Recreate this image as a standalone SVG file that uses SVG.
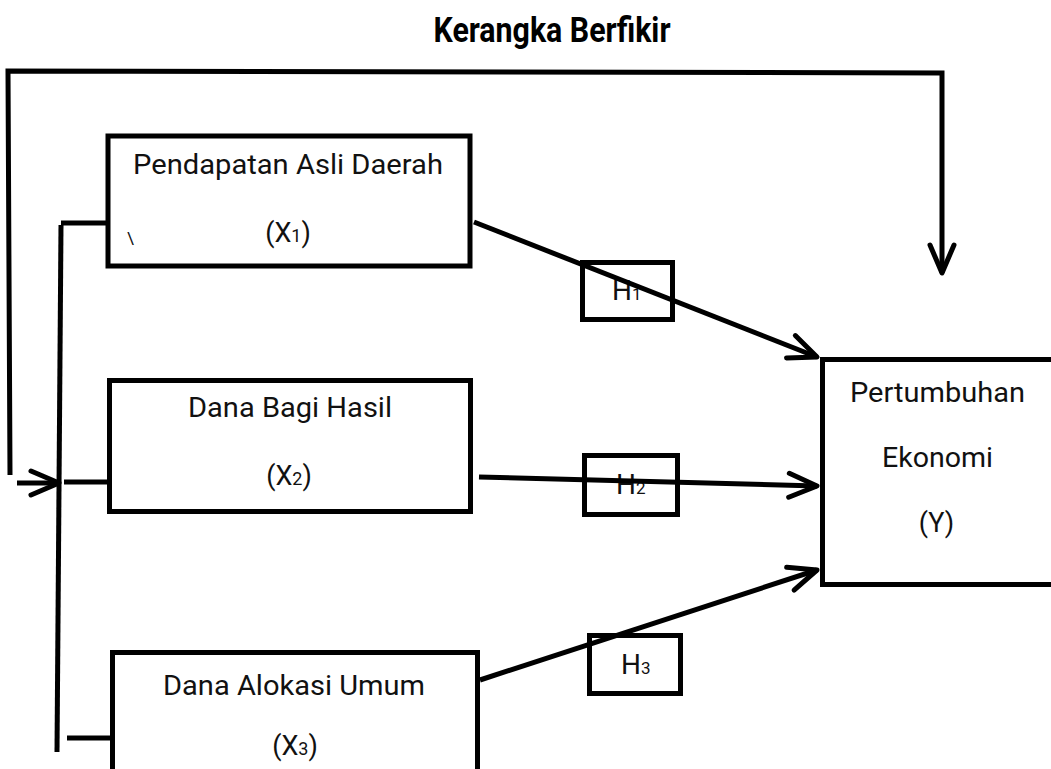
<svg xmlns="http://www.w3.org/2000/svg" width="1051" height="769" viewBox="0 0 1051 769">
<style>
.box{fill:#fff;stroke:#000;stroke-width:5}
.hbox{fill:#fff;stroke:#000;stroke-width:5}
.lbl{font-family:Roboto,"Liberation Sans",sans-serif;font-size:27px;fill:#111;text-anchor:middle}
.h{font-family:Roboto,"Liberation Sans",sans-serif;font-size:28px;fill:#111}
.ln{fill:none;stroke:#000;stroke-width:5;stroke-linecap:butt;stroke-linejoin:miter}
.title{font-family:Roboto,"Liberation Sans",sans-serif;font-size:35px;font-weight:bold;fill:#000;text-anchor:middle}
</style>
<defs>
<marker id="arr" markerUnits="userSpaceOnUse" viewBox="-32 -16 36 32" markerWidth="36" markerHeight="32" refX="0" refY="0" orient="auto" overflow="visible">
<path d="M-28,-12 L0,0 L-28,12" fill="none" stroke="#000" stroke-width="5" stroke-linecap="round" stroke-linejoin="round"/>
</marker>
</defs>
<rect width="1051" height="769" fill="#fff"/>
<text class="title" x="552" y="42" textLength="237" lengthAdjust="spacingAndGlyphs">Kerangka Berfikir</text>

<g id="node-x1">
<rect class="box" x="108" y="136" width="362" height="130"/>
<text class="lbl" x="288" y="174" textLength="310" lengthAdjust="spacingAndGlyphs">Pendapatan Asli Daerah</text>
<text class="lbl" x="288" y="242">(X<tspan font-size="18">1</tspan>)</text>
<text x="127" y="244" font-family="Roboto,'Liberation Sans',sans-serif" font-size="17" fill="#111">\</text>
</g>
<g id="node-x2">
<rect class="box" x="109.5" y="380.5" width="361" height="131"/>
<text class="lbl" x="290" y="417" textLength="204" lengthAdjust="spacingAndGlyphs">Dana Bagi Hasil</text>
<text class="lbl" x="289" y="485">(X<tspan font-size="18">2</tspan>)</text>
</g>
<g id="node-x3">
<rect class="box" x="112.5" y="652.5" width="365" height="140"/>
<text class="lbl" x="294" y="695" textLength="262" lengthAdjust="spacingAndGlyphs">Dana Alokasi Umum</text>
<text class="lbl" x="295" y="755">(X<tspan font-size="18">3</tspan>)</text>
</g>
<g id="node-y">
<rect class="box" x="822.5" y="359.5" width="240" height="225"/>
<text class="lbl" x="937.5" y="402" textLength="175" lengthAdjust="spacingAndGlyphs">Pertumbuhan</text>
<text class="lbl" x="937.5" y="467" textLength="111" lengthAdjust="spacingAndGlyphs">Ekonomi</text>
<text class="lbl" x="936.5" y="532">(Y)</text>
</g>
<g id="node-h1">
<rect class="hbox" x="582.5" y="262.5" width="90" height="57"/>
<text class="h" x="612" y="300">H<tspan font-size="17">1</tspan></text>
</g>
<g id="node-h2">
<rect class="hbox" x="584.5" y="455.5" width="93" height="59"/>
<text class="h" x="616" y="494">H<tspan font-size="17">2</tspan></text>
</g>
<g id="node-h3">
<rect class="hbox" x="589.5" y="635.5" width="91" height="58"/>
<text class="h" x="621" y="674">H<tspan font-size="17">3</tspan></text>
</g>

<g id="connectors">
<path class="ln" d="M474,222 L817,357" marker-end="url(#arr)"/>
<path class="ln" d="M479,477 L817,486" marker-end="url(#arr)"/>
<path class="ln" d="M480,680 L817,570" marker-end="url(#arr)"/>
<path class="ln" d="M10,475 L8,71 L942,73 L942,273" marker-end="url(#arr)"/>
<path class="ln" d="M17,483 L59,483" marker-end="url(#arr)"/>
<path class="ln" d="M61,225 L57,752"/>
<path class="ln" d="M61,223 L106,223"/>
<path class="ln" d="M64,482 L108,482"/>
<path class="ln" d="M67,738 L111,738"/>
</g>
</svg>
